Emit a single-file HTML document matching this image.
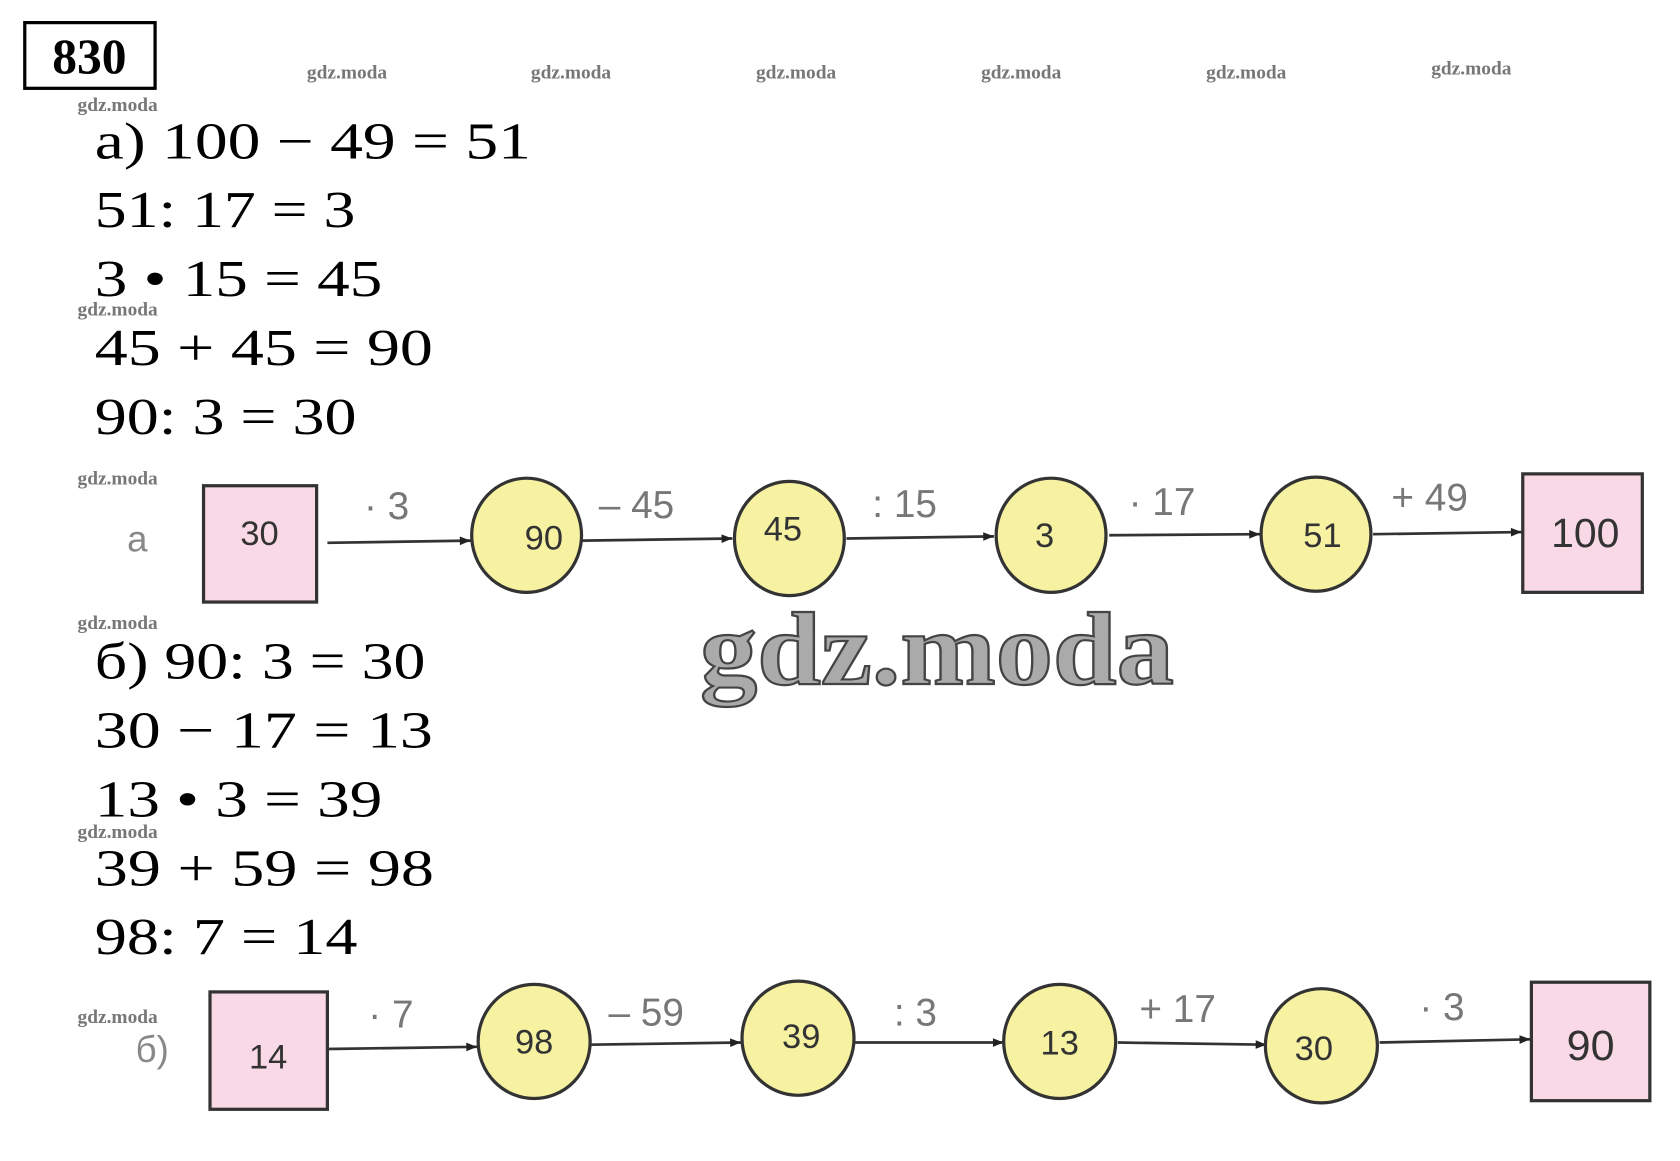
<!DOCTYPE html>
<html><head><meta charset="utf-8"><style>
html,body{margin:0;padding:0;background:#fff;}
svg{display:block;}
</style></head><body>
<svg width="1680" height="1161" viewBox="0 0 1560 1078" preserveAspectRatio="none" xmlns="http://www.w3.org/2000/svg">
<defs>
<marker id="ar" viewBox="0 0 10 10" refX="10" refY="5" markerWidth="16" markerHeight="10" orient="auto" markerUnits="userSpaceOnUse"><path d="M0,1 L10,5 L0,9 Z" fill="#222"/></marker>
</defs>
<rect width="1560" height="1078" fill="#fff"/>
<rect x="23" y="21" width="121" height="61" fill="none" stroke="#000" stroke-width="3"/>
<text x="83" y="68" font-family="Liberation Serif, serif" font-weight="bold" font-size="46" text-anchor="middle">830</text>
<g font-family="Liberation Serif, serif" font-size="18" fill="#777" font-weight="bold">
<text x="285" y="73">gdz.moda</text><text x="493" y="73">gdz.moda</text><text x="702" y="73">gdz.moda</text>
<text x="911" y="73">gdz.moda</text><text x="1120" y="73">gdz.moda</text><text x="1329" y="69">gdz.moda</text>
<text x="72" y="103">gdz.moda</text><text x="72" y="293">gdz.moda</text><text x="72" y="450">gdz.moda</text>
<text x="72" y="584">gdz.moda</text><text x="72" y="778">gdz.moda</text><text x="72" y="950">gdz.moda</text>
</g>
<g font-family="Liberation Serif, serif" font-size="48" fill="#000" lengthAdjust="spacingAndGlyphs">
<text x="88" y="147" textLength="405" lengthAdjust="spacingAndGlyphs">а) 100 − 49 = 51</text>
<text x="88" y="211" textLength="242" lengthAdjust="spacingAndGlyphs">51: 17 = 3</text>
<text x="88" y="275" textLength="267" lengthAdjust="spacingAndGlyphs">3 • 15 = 45</text>
<text x="88" y="339" textLength="314" lengthAdjust="spacingAndGlyphs">45 + 45 = 90</text>
<text x="88" y="403" textLength="243" lengthAdjust="spacingAndGlyphs">90: 3 = 30</text>
<text x="88" y="630" textLength="307" lengthAdjust="spacingAndGlyphs">б) 90: 3 = 30</text>
<text x="88" y="694" textLength="314" lengthAdjust="spacingAndGlyphs">30 − 17 = 13</text>
<text x="88" y="758" textLength="267" lengthAdjust="spacingAndGlyphs">13 • 3 = 39</text>
<text x="88" y="822" textLength="315" lengthAdjust="spacingAndGlyphs">39 + 59 = 98</text>
<text x="88" y="886" textLength="244" lengthAdjust="spacingAndGlyphs">98: 7 = 14</text>
</g>
<text x="650" y="635" font-family="Liberation Serif, serif" font-weight="bold" font-size="96" fill="#aaa" stroke="#444" stroke-width="2" textLength="440" lengthAdjust="spacingAndGlyphs">gdz.moda</text>
<g font-family="Liberation Sans, sans-serif" fill="#333">
<text x="118" y="512" font-size="34" fill="#888">а</text>
<g stroke="#333" stroke-width="2.5" marker-end="url(#ar)">
<line x1="304" y1="504" x2="437" y2="502"/>
<line x1="541" y1="502" x2="680" y2="500"/>
<line x1="786" y1="500" x2="923" y2="498"/>
<line x1="1030" y1="497" x2="1170" y2="496"/>
<line x1="1275" y1="496" x2="1413" y2="494"/>
</g>
<rect x="189" y="451" width="105" height="108" fill="#f9d9e6" stroke="#333" stroke-width="3"/>
<rect x="1414" y="440" width="111" height="110" fill="#f9d9e6" stroke="#333" stroke-width="3"/>
<g fill="#f6f2a2" stroke="#333" stroke-width="3">
<ellipse cx="489" cy="497" rx="51" ry="53"/><ellipse cx="733" cy="500" rx="51" ry="53"/>
<ellipse cx="976" cy="497" rx="51" ry="53"/><ellipse cx="1222" cy="496" rx="51" ry="53"/>
</g>
<g font-size="32" text-anchor="middle" fill="#333">
<text x="241" y="506">30</text><text x="505" y="510">90</text><text x="727" y="502">45</text>
<text x="970" y="508">3</text><text x="1228" y="508">51</text><text x="1472" y="508" font-size="38">100</text>
</g>
<g font-size="36" fill="#777">
<text x="338" y="482">· 3</text><text x="556" y="481">– 45</text><text x="810" y="480">: 15</text>
<text x="1048" y="478">· 17</text><text x="1292" y="474">+ 49</text>
</g>
<text x="126" y="986" font-size="34" fill="#888">б)</text>
<g stroke="#333" stroke-width="2.5" marker-end="url(#ar)">
<line x1="304" y1="974" x2="443" y2="972"/>
<line x1="548" y1="970" x2="688" y2="968"/>
<line x1="793" y1="968" x2="932" y2="968"/>
<line x1="1038" y1="968" x2="1176" y2="970"/>
<line x1="1281" y1="968" x2="1421" y2="965"/>
</g>
<rect x="195" y="921" width="109" height="109" fill="#f9d9e6" stroke="#333" stroke-width="3"/>
<rect x="1422" y="912" width="110" height="110" fill="#f9d9e6" stroke="#333" stroke-width="3"/>
<g fill="#f6f2a2" stroke="#333" stroke-width="3">
<ellipse cx="496" cy="967" rx="52" ry="53"/><ellipse cx="741" cy="964" rx="52" ry="53"/>
<ellipse cx="984" cy="967" rx="52" ry="53"/><ellipse cx="1227" cy="971" rx="52" ry="53"/>
</g>
<g font-size="32" text-anchor="middle" fill="#333">
<text x="249" y="992">14</text><text x="496" y="978">98</text><text x="744" y="973">39</text>
<text x="984" y="979">13</text><text x="1220" y="984">30</text><text x="1477" y="984" font-size="40">90</text>
</g>
<g font-size="36" fill="#777">
<text x="342" y="954">· 7</text><text x="565" y="952">– 59</text><text x="830" y="952">: 3</text>
<text x="1058" y="949">+ 17</text><text x="1318" y="947">· 3</text>
</g>
</g>
</svg>
</body></html>
